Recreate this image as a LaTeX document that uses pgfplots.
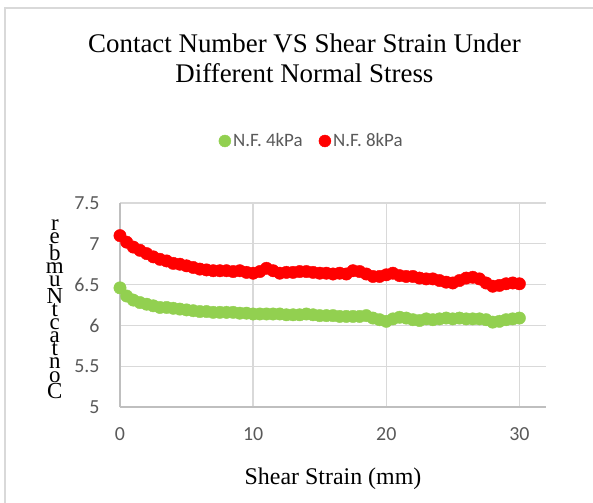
\documentclass[border=0pt]{standalone}
\usepackage{pgfplots}
\pgfplotsset{compat=1.18}
\usepackage{fontspec}
\setmainfont{Liberation Serif}
\newfontfamily\carlito{Carlito}
\definecolor{mygreen}{HTML}{92D050}
\definecolor{myred}{HTML}{FF0000}
\definecolor{gridc}{HTML}{D9D9D9}
\definecolor{axisc}{HTML}{BFBFBF}
\definecolor{tickc}{HTML}{595959}
\begin{document}
\begin{tikzpicture}[x=1bp,y=1bp]
\useasboundingbox (0,0) rectangle (593,-503);
\draw[gridc, line width=1.2bp] (5,-8) rectangle (610,-520);
\begin{axis}[
  at={(120bp,-407bp)}, anchor=south west,
  scale only axis, width=426bp, height=204bp,
  xmin=0, xmax=32, ymin=5, ymax=7.5,
  xtick={0,10,20,30}, ytick={5,5.5,6,6.5,7,7.5},
  yticklabels={5,5.5,6,6.5,7,7.5},
  axis x line=bottom, axis y line=left,
  axis line style={-, axisc, line width=1.6bp},
  major tick length=0pt,
  grid=major, major grid style={gridc, line width=1.3bp},
  /pgf/number format/assume math mode=true,
  ticklabel style={font=\carlito\fontsize{20}{22}\selectfont, text=tickc},
  yticklabel style={xshift=-17bp},
  xticklabel style={yshift=-17bp},
  xlabel={Shear Strain (mm)},
  xlabel style={font=\fontsize{24}{26}\selectfont, at={(axis description cs:0.5,-0.35)}, anchor=center},
  ylabel={r\\e\\b\\m\\u\\N\\t\\c\\a\\t\\n\\o\\C},
  ylabel style={rotate=-90, align=center, font=\fontsize{23}{13.2}\selectfont, at={(axis description cs:-0.153,0.48)}, anchor=center},
  title={Contact Number VS Shear Strain Under\\Different Normal Stress},
  title style={align=center, font=\fontsize{27}{31}\selectfont, at={(axis description cs:0.433,1.68)}, anchor=center},
  legend columns=2,
  legend style={at={(axis description cs:0.45,1.304)}, anchor=center, draw=none, fill=none,
    font=\carlito\fontsize{19}{21}\selectfont, text=tickc,
    /tikz/every even column/.append style={column sep=14bp},
    legend image code/.code={\fill[#1] (0bp,0bp) circle (6bp);},
    nodes={inner sep=2bp}},
  legend cell align=left,
  clip=false,
]
\addplot[only marks, mark=*, mark size=6.2bp, color=mygreen] coordinates {
(0,6.46)(0.5,6.36)(1,6.31)(1.5,6.28)(2,6.26)(2.5,6.24)(3,6.22)(3.5,6.22)(4,6.21)(4.5,6.20)
(5,6.19)(5.5,6.18)(6,6.17)(6.5,6.17)(7,6.16)(7.5,6.16)(8,6.16)(8.5,6.16)(9,6.15)(9.5,6.15)
(10,6.14)(10.5,6.14)(11,6.14)(11.5,6.14)(12,6.14)(12.5,6.13)(13,6.13)(13.5,6.13)(14,6.14)(14.5,6.13)
(15,6.12)(15.5,6.12)(16,6.12)(16.5,6.11)(17,6.11)(17.5,6.11)(18,6.11)(18.5,6.12)(19,6.09)(19.5,6.07)
(20,6.05)(20.5,6.08)(21,6.10)(21.5,6.09)(22,6.07)(22.5,6.06)(23,6.08)(23.5,6.07)(24,6.08)(24.5,6.09)
(25,6.08)(25.5,6.09)(26,6.08)(26.5,6.08)(27,6.08)(27.5,6.07)(28,6.04)(28.5,6.05)(29,6.07)(29.5,6.08)(30,6.09)
};
\addlegendentry{N.F. 4kPa}
\addplot[only marks, mark=*, mark size=6.2bp, color=myred] coordinates {
(0,7.10)(0.5,7.02)(1,6.96)(1.5,6.92)(2,6.88)(2.5,6.84)(3,6.81)(3.5,6.79)(4,6.76)(4.5,6.75)
(5,6.73)(5.5,6.71)(6,6.69)(6.5,6.68)(7,6.67)(7.5,6.67)(8,6.67)(8.5,6.66)(9,6.67)(9.5,6.65)
(10,6.64)(10.5,6.66)(11,6.70)(11.5,6.67)(12,6.64)(12.5,6.65)(13,6.65)(13.5,6.66)(14,6.66)(14.5,6.65)
(15,6.64)(15.5,6.64)(16,6.63)(16.5,6.64)(17,6.63)(17.5,6.67)(18,6.66)(18.5,6.63)(19,6.60)(19.5,6.60)
(20,6.62)(20.5,6.64)(21,6.61)(21.5,6.60)(22,6.60)(22.5,6.58)(23,6.57)(23.5,6.57)(24,6.55)(24.5,6.53)
(25,6.52)(25.5,6.55)(26,6.58)(26.5,6.59)(27,6.57)(27.5,6.52)(28,6.48)(28.5,6.49)(29,6.51)(29.5,6.52)(30,6.51)
};
\addlegendentry{N.F. 8kPa}
\end{axis}
\end{tikzpicture}
\end{document}
